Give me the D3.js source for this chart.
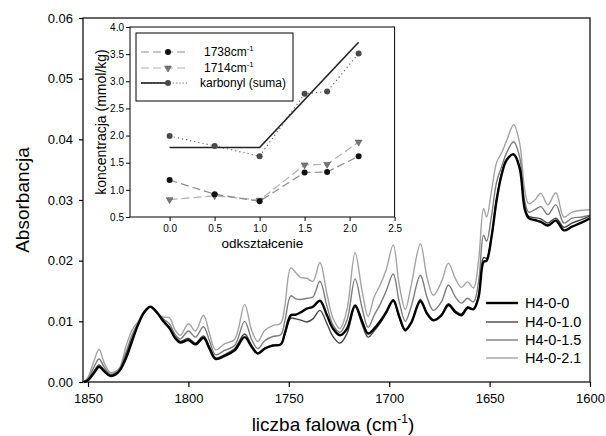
<!DOCTYPE html>
<html><head><meta charset="utf-8">
<script src="https://cdn.jsdelivr.net/npm/d3@7"></script>
<style>
html,body{margin:0;padding:0;background:#fff;}
svg text{font-family:"Liberation Sans",Arial,sans-serif;fill:#000;}
</style></head>
<body><svg id="c" width="606" height="436"></svg>
<script>
// ---------------- data ----------------
const wavenumbers = [1852,1850,1847,1844.5,1842,1839,1836,1834,1831,1828,1825,1822,1819,1816,1812.5,1809.5,1806.5,1804,1800,1796.5,1792.5,1789.5,1786.5,1782,1777,1772,1768.5,1765.5,1762,1758,1754,1752,1749,1746.5,1744,1741,1738,1734.5,1731,1728,1724.5,1721,1717,1713.5,1710.5,1707.5,1704.5,1701.5,1698,1695,1692,1689,1684.5,1681,1678,1674,1670.5,1667,1664,1661,1658,1655.5,1653,1651.5,1649,1646.5,1644,1641.5,1638,1635,1632.5,1630.5,1627.5,1624.5,1621,1617,1613,1609,1604,1600];

const h400 = [0.0000,0.0003,0.0015,0.0025,0.0018,0.0010,0.0013,0.0020,0.0040,0.0068,0.0095,0.0115,0.0124,0.0116,0.0100,0.0089,0.0072,0.0065,0.0069,0.0062,0.0073,0.0055,0.0038,0.0043,0.0052,0.0074,0.0058,0.0047,0.0055,0.0060,0.0062,0.0080,0.0110,0.0111,0.0115,0.0121,0.0124,0.0134,0.0110,0.0088,0.0077,0.0088,0.0126,0.0100,0.0080,0.0088,0.0100,0.0115,0.0135,0.0108,0.0086,0.0098,0.0133,0.0112,0.0102,0.0110,0.0127,0.0115,0.0110,0.0122,0.0120,0.0140,0.0198,0.0200,0.0240,0.0300,0.0342,0.0366,0.0375,0.0352,0.0285,0.0270,0.0267,0.0264,0.0258,0.0266,0.0250,0.0256,0.0263,0.0270];

const h4010 = [0.0000,0.0004,0.0018,0.0028,0.0020,0.0011,0.0014,0.0021,0.0045,0.0072,0.0096,0.0115,0.0124,0.0116,0.0102,0.0090,0.0074,0.0067,0.0072,0.0064,0.0076,0.0058,0.0040,0.0045,0.0055,0.0079,0.0060,0.0048,0.0056,0.0061,0.0062,0.0078,0.0105,0.0104,0.0102,0.0099,0.0104,0.0118,0.0096,0.0075,0.0064,0.0080,0.0124,0.0095,0.0074,0.0084,0.0097,0.0113,0.0133,0.0106,0.0084,0.0097,0.0136,0.0112,0.0101,0.0111,0.0129,0.0117,0.0112,0.0124,0.0121,0.0142,0.0205,0.0204,0.0242,0.0302,0.0344,0.0367,0.0376,0.0354,0.0288,0.0273,0.0271,0.0269,0.0262,0.0270,0.0255,0.0262,0.0268,0.0274];

const h4015 = [0.0000,0.0005,0.0025,0.0038,0.0025,0.0013,0.0016,0.0023,0.0050,0.0078,0.0098,0.0116,0.0124,0.0115,0.0104,0.0096,0.0078,0.0071,0.0084,0.0074,0.0091,0.0068,0.0045,0.0052,0.0060,0.0100,0.0070,0.0055,0.0068,0.0075,0.0078,0.0100,0.0142,0.0137,0.0136,0.0138,0.0140,0.0166,0.0125,0.0094,0.0082,0.0102,0.0170,0.0122,0.0090,0.0110,0.0128,0.0150,0.0178,0.0132,0.0100,0.0125,0.0176,0.0138,0.0118,0.0132,0.0160,0.0140,0.0130,0.0138,0.0132,0.0165,0.0242,0.0232,0.0275,0.0330,0.0355,0.0378,0.0396,0.0370,0.0298,0.0280,0.0284,0.0289,0.0276,0.0292,0.0262,0.0270,0.0272,0.0275];

const h4021 = [0.0000,0.0008,0.0035,0.0054,0.0032,0.0016,0.0018,0.0025,0.0060,0.0086,0.0100,0.0117,0.0124,0.0115,0.0107,0.0106,0.0085,0.0077,0.0096,0.0084,0.0110,0.0080,0.0053,0.0063,0.0070,0.0128,0.0085,0.0067,0.0085,0.0093,0.0097,0.0125,0.0188,0.0180,0.0172,0.0171,0.0166,0.0197,0.0145,0.0105,0.0088,0.0120,0.0213,0.0150,0.0108,0.0140,0.0160,0.0185,0.0226,0.0160,0.0120,0.0160,0.0228,0.0170,0.0143,0.0165,0.0196,0.0170,0.0156,0.0165,0.0155,0.0200,0.0286,0.0272,0.0316,0.0362,0.0378,0.0398,0.0424,0.0393,0.0316,0.0294,0.0300,0.0311,0.0292,0.0312,0.0272,0.0280,0.0283,0.0284];

const seriesNames = ["H4-0-0","H4-0-1.0","H4-0-1.5","H4-0-2.1"];
const xTicks = [1850,1800,1750,1700,1650,1600];
const yTicks = [0,0.01,0.02,0.03,0.04,0.05,0.06];

// inset data
const strain = [0,0.5,1.0,1.5,1.75,2.1];
const c1738 = [1.18,0.92,0.79,1.32,1.33,1.62];
const c1714 = [0.82,0.89,0.81,1.46,1.47,1.88];
const cSum  = [1.99,1.81,1.62,2.77,2.81,3.51];
const fitX = [0,1.0,2.1];
const fitY = [1.78,1.78,3.72];
const insetXTicks = [0,0.5,1.0,1.5,2.0,2.5];
const insetYTicks = [0.5,1.0,1.5,2.0,2.5,3.0,3.5,4.0];
const insetLegend = ["1738cm","1714cm","karbonyl (suma)"];

// ---------------- drawing ----------------
const svg = d3.select("#c");
const L=83,R=590,T=18,B=382;
const x = d3.scaleLinear().domain([1852.5,1600]).range([L,R]);
const y = d3.scaleLinear().domain([0,0.06]).range([B,T]);

const series = [
  {name:seriesNames[3], v:h4021, color:"#a3a3a3", w:1.4},
  {name:seriesNames[2], v:h4015, color:"#7c7c7c", w:1.4},
  {name:seriesNames[1], v:h4010, color:"#454545", w:1.4},
  {name:seriesNames[0], v:h400,  color:"#000000", w:2.4}
];
const line = d3.line().x(d=>x(d[0])).y(d=>y(d[1])).curve(d3.curveCatmullRom.alpha(0.5));
const gLines = svg.append("g");
series.forEach(s=>{
  gLines.append("path").datum(wavenumbers.map((w,i)=>[w,s.v[i]]))
    .attr("d",line).attr("fill","none").attr("stroke",s.color)
    .attr("stroke-width",s.w).attr("stroke-linejoin","round");
});

// frame
svg.append("rect").attr("x",L).attr("y",T).attr("width",R-L).attr("height",B-T)
  .attr("fill","none").attr("stroke","#000").attr("stroke-width",1.2);

const xAxis = svg.append("g").attr("transform",`translate(0,${B})`)
  .call(d3.axisBottom(x).tickValues(xTicks).tickSize(5).tickPadding(7).tickFormat(d3.format("d")));
const yAxis = svg.append("g").attr("transform",`translate(${L},0)`)
  .call(d3.axisLeft(y).tickValues(yTicks).tickSize(4).tickPadding(6).tickFormat(d3.format(".2f")));
[xAxis,yAxis].forEach(a=>{
  a.select(".domain").remove();
  a.selectAll("line").attr("stroke","#000").attr("stroke-width",1.2);
  a.selectAll("text").attr("font-size",13).attr("font-family","Liberation Sans, Arial, sans-serif").attr("fill","#000");
});

svg.append("text").attr("transform","translate(29,200) rotate(-90)")
  .attr("text-anchor","middle").attr("font-size",19).text("Absorbancja");
const xt = svg.append("text").attr("x",333).attr("y",431).attr("text-anchor","middle").attr("font-size",19);
xt.append("tspan").text("liczba falowa (cm");
xt.append("tspan").attr("font-size",12).attr("dy",-8).text("-1");
xt.append("tspan").attr("dy",8).text(")");

// main legend
const legY = [303,322,340,358];
[0,1,2,3].forEach(i=>{
  const s = series[3-i];
  svg.append("line").attr("x1",486).attr("x2",518).attr("y1",legY[i]).attr("y2",legY[i])
    .attr("stroke",s.color).attr("stroke-width",s.w);
  svg.append("text").attr("x",525).attr("y",legY[i]+5).attr("font-size",14.5).text(s.name);
});

// ---------------- inset ----------------
const iL=130,iR=394.6,iT=27,iB=217;
const ix = d3.scaleLinear().domain([-0.44,2.5]).range([iL,iR]);
const iy = d3.scaleLinear().domain([0.5,4.0]).range([iB,iT]);
svg.append("rect").attr("x",iL).attr("y",iT).attr("width",iR-iL).attr("height",iB-iT)
  .attr("fill","#fff").attr("stroke","#000").attr("stroke-width",1);
const ixa = svg.append("g").attr("transform",`translate(0,${iB})`)
  .call(d3.axisBottom(ix).tickValues(insetXTicks).tickSize(4).tickPadding(4).tickFormat(d3.format(".1f")));
const iya = svg.append("g").attr("transform",`translate(${iL},0)`)
  .call(d3.axisLeft(iy).tickValues(insetYTicks).tickSize(4).tickPadding(2).tickFormat(d3.format(".1f")));
[ixa,iya].forEach(a=>{
  a.select(".domain").remove();
  a.selectAll("line").attr("stroke","#000");
  a.selectAll("text").attr("font-size",10).attr("font-family","Liberation Sans, Arial, sans-serif").attr("fill","#222");
});
svg.append("text").attr("x",(iL+iR)/2).attr("y",248).attr("text-anchor","middle").attr("font-size",13.5).text("odkształcenie");
svg.append("text").attr("transform",`translate(106,${(iT+iB)/2}) rotate(-90)`)
  .attr("text-anchor","middle").attr("font-size",14).text("koncentracja (mmol/kg)");

const il = d3.line().x(d=>ix(d[0])).y(d=>iy(d[1]));
const pts = (xs,ys)=>xs.map((v,i)=>[v,ys[i]]);
// dotted sum
svg.append("path").datum(pts(strain,cSum)).attr("d",il).attr("fill","none")
  .attr("stroke","#666").attr("stroke-width",1.2).attr("stroke-dasharray","1.2,3");
// dashed 1714
svg.append("path").datum(pts(strain,c1714)).attr("d",il).attr("fill","none")
  .attr("stroke","#b0b0b0").attr("stroke-width",1.2).attr("stroke-dasharray","8,4");
// dashed 1738
svg.append("path").datum(pts(strain,c1738)).attr("d",il).attr("fill","none")
  .attr("stroke","#8a8a8a").attr("stroke-width",1.2).attr("stroke-dasharray","8,4");
// fit
svg.append("path").datum(pts(fitX,fitY)).attr("d",il).attr("fill","none")
  .attr("stroke","#222").attr("stroke-width",1.6);
// markers
const tri = d3.symbol().type(d3.symbolTriangle).size(20);
svg.append("g").selectAll("path").data(pts(strain,c1714)).join("path")
  .attr("d",tri).attr("transform",d=>`translate(${ix(d[0])},${iy(d[1])}) rotate(180)`)
  .attr("fill","#777").attr("stroke","#555").attr("stroke-width",0.6);
svg.append("g").selectAll("circle").data(pts(strain,c1738)).join("circle")
  .attr("cx",d=>ix(d[0])).attr("cy",d=>iy(d[1])).attr("r",3).attr("fill","#111");
svg.append("g").selectAll("circle").data(pts(strain,cSum)).join("circle")
  .attr("cx",d=>ix(d[0])).attr("cy",d=>iy(d[1])).attr("r",3).attr("fill","#4a4a4a");

// inset legend
svg.append("rect").attr("x",136).attr("y",33).attr("width",157).attr("height",68)
  .attr("fill","#fff").attr("stroke","#000").attr("stroke-width",1);
const ily = [52,68,83];
// 1738
svg.append("line").attr("x1",141).attr("x2",187).attr("y1",ily[0]).attr("y2",ily[0])
  .attr("stroke","#8a8a8a").attr("stroke-width",1.2).attr("stroke-dasharray","8,4");
svg.append("circle").attr("cx",168).attr("cy",ily[0]).attr("r",3).attr("fill","#111");
// 1714
svg.append("line").attr("x1",141).attr("x2",187).attr("y1",ily[1]).attr("y2",ily[1])
  .attr("stroke","#b0b0b0").attr("stroke-width",1.2).attr("stroke-dasharray","8,4");
svg.append("path").attr("d",tri).attr("transform",`translate(168,${ily[1]}) rotate(180)`)
  .attr("fill","#777").attr("stroke","#555").attr("stroke-width",0.6);
// sum
svg.append("line").attr("x1",141).attr("x2",187).attr("y1",ily[2]).attr("y2",ily[2])
  .attr("stroke","#666").attr("stroke-width",1.2).attr("stroke-dasharray","1.2,2");
svg.append("line").attr("x1",141).attr("x2",168).attr("y1",ily[2]).attr("y2",ily[2])
  .attr("stroke","#222").attr("stroke-width",1.6);
svg.append("circle").attr("cx",168).attr("cy",ily[2]).attr("r",3).attr("fill","#4a4a4a");
// texts
[0,1].forEach(i=>{
  const t = svg.append("text").attr("x",204).attr("y",ily[i]+4).attr("font-size",12);
  t.append("tspan").text(insetLegend[i]);
  t.append("tspan").attr("font-size",8).attr("dy",-5).text("-1");
});
svg.append("text").attr("x",200).attr("y",ily[2]+4).attr("font-size",12).text(insetLegend[2]);
</script></body></html>
